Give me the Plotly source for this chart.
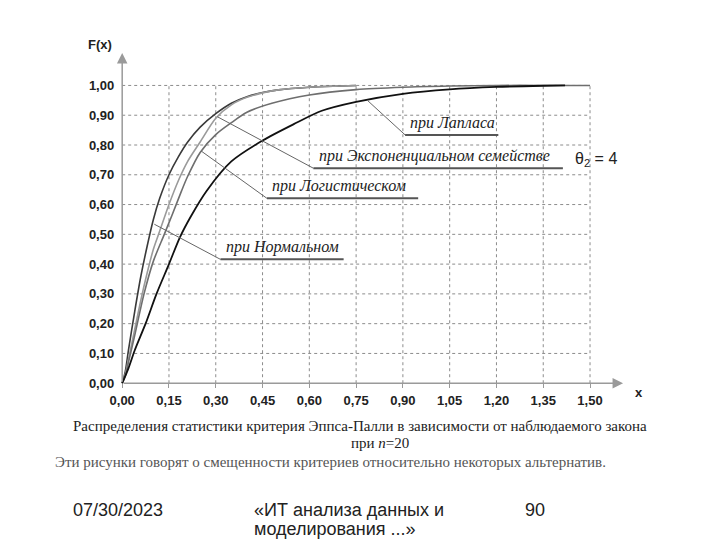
import plotly.graph_objects as go

# --- curves (x, F(x)) ---
normal_x = [0, 0.01, 0.02, 0.04, 0.06, 0.08, 0.10, 0.12, 0.15, 0.18, 0.21, 0.25,
            0.30, 0.35, 0.40, 0.45, 0.50, 0.60, 0.70, 0.75]
normal_f = [0, 0.04, 0.11, 0.24, 0.36, 0.46, 0.55, 0.62, 0.70, 0.76, 0.81, 0.86,
            0.905, 0.94, 0.962, 0.976, 0.985, 0.994, 0.998, 1.0]

expon_x = [0, 0.01, 0.02, 0.04, 0.06, 0.08, 0.10, 0.12, 0.15, 0.18, 0.21, 0.25,
           0.30, 0.35, 0.40, 0.45, 0.50, 0.60, 0.70, 0.75]
expon_f = [0, 0.03, 0.08, 0.18, 0.28, 0.37, 0.45, 0.51, 0.60, 0.68, 0.745, 0.81,
           0.89, 0.935, 0.96, 0.975, 0.985, 0.994, 0.998, 1.0]

logist_x = [0, 0.01, 0.02, 0.04, 0.07, 0.10, 0.135, 0.16, 0.19, 0.21, 0.25, 0.30,
            0.35, 0.40, 0.48, 0.60, 0.75, 0.90, 1.05, 1.20, 1.35, 1.50]
logist_f = [0, 0.025, 0.07, 0.16, 0.30, 0.41, 0.50, 0.565, 0.645, 0.695, 0.775, 0.835,
            0.875, 0.91, 0.94, 0.968, 0.986, 0.994, 0.998, 1.0, 1.0, 1.0]

laplace_x = [0, 0.02, 0.04, 0.075, 0.11, 0.15, 0.185, 0.22, 0.27, 0.35, 0.45, 0.55,
             0.64, 0.75, 0.90, 1.05, 1.20, 1.35, 1.42]
laplace_f = [0, 0.05, 0.11, 0.20, 0.30, 0.40, 0.49, 0.56, 0.645, 0.745, 0.815, 0.87,
             0.915, 0.945, 0.972, 0.987, 0.995, 0.999, 1.0]

x_ticks = [0, 0.15, 0.30, 0.45, 0.60, 0.75, 0.90, 1.05, 1.20, 1.35, 1.50]
y_ticks = [0, 0.10, 0.20, 0.30, 0.40, 0.50, 0.60, 0.70, 0.80, 0.90, 1.00]

# callouts: point on curve -> bend -> end of underline, label
callouts = [
    ("при Лапласа", [0.785, 0.907, 1.206], [0.951, 0.834, 0.834]),
    ("при Экспоненциальном семействе", [0.305, 0.613, 1.413], [0.895, 0.722, 0.722]),
    ("при Логистическом", [0.253, 0.464, 0.949], [0.780, 0.621, 0.621]),
    ("при Нормальном", [0.103, 0.315, 0.710], [0.534, 0.416, 0.416]),
]

X_RANGE = [-0.1, 1.75]
Y_RANGE = [-0.1, 1.25]
W, H = 720, 540
OFF = 8  # page body margin
L, T = 90.5 - OFF, 11 - OFF
PW, PH = 577.8, 402.0


def paper(px, py):
    return (px - OFF - L) / PW, 1 - (py - OFF - T) / PH


def text_at(px, py, text, font, xanchor="center", align="center"):
    x, y = paper(px, py)
    fig.add_annotation(x=x, y=y, xref="paper", yref="paper", text=text,
                       showarrow=False, xanchor=xanchor, yanchor="middle",
                       align=align, font=font)


fig = go.Figure()

# dashed grid
for xv in x_ticks[1:]:
    fig.add_shape(type="line", xref="x", yref="y", x0=xv, x1=xv, y0=0, y1=1.0,
                  line=dict(color="#8c8c8c", width=1, dash="3px,3px"), layer="below")
for yv in y_ticks[1:]:
    fig.add_shape(type="line", xref="x", yref="y", x0=0, x1=1.5, y0=yv, y1=yv,
                  line=dict(color="#8c8c8c", width=1, dash="3px,3px"), layer="below")

series = [
    (normal_x, normal_f, "#3a3a3a", 1.6),
    (expon_x, expon_f, "#9a9a9a", 1.6),
    (logist_x, logist_f, "#6e6e6e", 1.6),
    (laplace_x, laplace_f, "#111111", 1.8),
]
for xs, fs, col, w in series:
    fig.add_trace(go.Scatter(x=xs, y=fs, mode="lines",
                             line=dict(color=col, width=w, shape="spline", smoothing=0.8),
                             hoverinfo="skip"))

# callout lines and labels
for label, cx, cy in callouts:
    fig.add_trace(go.Scatter(x=cx[:2], y=cy[:2], mode="lines",
                             line=dict(color="#666666", width=1), hoverinfo="skip"))
    fig.add_trace(go.Scatter(x=cx[1:], y=cy[1:], mode="lines",
                             line=dict(color="#555555", width=2), hoverinfo="skip"))
    fig.add_annotation(x=cx[1] + 0.01, y=cy[1] + 0.003, xref="x", yref="y",
                       text="<i>" + label + "</i>", showarrow=False,
                       xanchor="left", yanchor="bottom",
                       font=dict(family="Liberation Serif", size=16, color="#222222"))

fig.add_annotation(x=1.445, y=0.712, xref="x", yref="y", text="θ<sub>2</sub> = 4",
                   showarrow=False, xanchor="left", yanchor="bottom",
                   font=dict(family="Liberation Sans", size=16, color="#222222"))

# axes with arrows
fig.add_annotation(x=0, y=1.109, ax=0, ay=0, xref="x", yref="y", axref="x", ayref="y",
                   text="", showarrow=True, arrowhead=2, arrowsize=1.4,
                   arrowwidth=1.5, arrowcolor="#9a9a9a")
fig.add_annotation(x=1.606, y=0, ax=0, ay=0, xref="x", yref="y", axref="x", ayref="y",
                   text="", showarrow=True, arrowhead=2, arrowsize=1.4,
                   arrowwidth=1.5, arrowcolor="#9a9a9a")

bold = dict(family="Liberation Sans", size=13, color="#222222", weight="bold")
text_at(100, 44, "F(x)", bold)
text_at(639, 392, "x", bold)

# caption
serif = dict(family="Liberation Serif", size=15, color="#222222")
text_at(360, 426, "Распределения статистики критерия Эппса-Палли в зависимости от наблюдаемого закона", serif)
text_at(380, 443, "при <i>n</i>=20", serif)
text_at(52, 462, "Эти рисунки говорят о смещенности критериев относительно некоторых альтернатив.",
        dict(family="Liberation Serif", size=15, color="#555555"), xanchor="left", align="left")

# footer
sans = dict(family="Liberation Sans", size=18, color="#222222")
text_at(70, 510, "07/30/2023", sans, xanchor="left", align="left")
text_at(252, 510, "«ИТ анализа данных и", sans, xanchor="left", align="left")
text_at(252, 529, "моделирования ...»", sans, xanchor="left", align="left")
text_at(523, 510, "90", sans, xanchor="left", align="left")

fig.update_layout(
    width=W, height=H,
    margin=dict(l=L, r=W - L - PW, t=T, b=H - T - PH, pad=0, autoexpand=False),
    paper_bgcolor="white", plot_bgcolor="white",
    showlegend=False,
    separators=",.",
    xaxis=dict(range=X_RANGE, anchor="free", position=0.1 / 1.35,
               tickvals=x_ticks, tickformat=".2f", showgrid=False, zeroline=False,
               showline=False, ticks="outside", ticklen=4, tickcolor="#9a9a9a",
               tickfont=bold, ticklabelstandoff=1, automargin=False),
    yaxis=dict(range=Y_RANGE, anchor="free", position=0.1 / 1.85,
               tickvals=y_ticks, tickformat=".2f", showgrid=False, zeroline=False,
               showline=False, ticks="", tickfont=bold, ticklabelstandoff=8,
               automargin=False),
)

fig.write_html("out.html")
